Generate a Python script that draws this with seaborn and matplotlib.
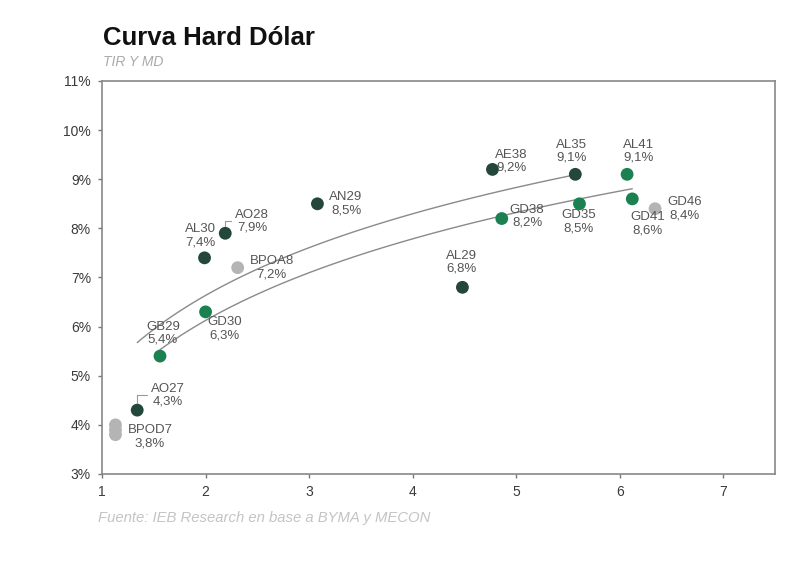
import numpy as np
import pandas as pd
import matplotlib
matplotlib.use("Agg")
import matplotlib.pyplot as plt
import seaborn as sns

# ---- data ----
bonds = ["BPOB7", "BPOC7", "BPOD7", "AO27", "GB29", "GD30", "AL30", "AO28", "BPOA8",
         "AN29", "AL29", "AE38", "GD38", "AL35", "GD35", "AL41", "GD41", "GD46"]
duration = [1.13, 1.13, 1.13, 1.34, 1.56, 2.00, 1.99, 2.19, 2.31,
            3.08, 4.48, 4.77, 4.86, 5.57, 5.61, 6.07, 6.12, 6.34]
tir = [4.0, 3.9, 3.8, 4.3, 5.4, 6.3, 7.4, 7.9, 7.2,
       8.5, 6.8, 9.2, 8.2, 9.1, 8.5, 9.1, 8.6, 8.4]
group = ["otros", "otros", "otros", "ley local", "ley NY", "ley NY", "ley local", "ley local", "otros",
         "ley local", "ley local", "ley local", "ley NY", "ley local", "ley NY", "ley NY", "ley NY", "otros"]
labeled = ["BPOD7", "AO27", "GB29", "GD30", "AL30", "AO28", "BPOA8", "AN29", "AL29",
           "AE38", "GD38", "AL35", "GD35", "AL41", "GD41", "GD46"]

title = "Curva Hard Dólar"
subtitle = "TIR Y MD"
source = "Fuente: IEB Research en base a BYMA y MECON"
x_ticks = [1, 2, 3, 4, 5, 6, 7]
y_ticks = [3, 4, 5, 6, 7, 8, 9, 10, 11]

palette = {"ley local": "#23473a", "ley NY": "#1b8150", "otros": "#b4b4b4"}

# label placement (pixel offsets, alignment, leader line)
label_pos = {
    "BPOD7": (12, -2, "left", False), "AO27": (14, 15, "left", True), "GB29": (-14, 23, "left", False),
    "GD30": (2, -17, "left", False), "AL30": (-4, 22, "center", False), "AO28": (10, 12, "left", True),
    "BPOA8": (12, 0, "left", False), "AN29": (12, 0, "left", False), "AL29": (-1, 25, "center", False),
    "AE38": (3, 8, "left", False), "GD38": (8, 2, "left", False), "AL35": (-4, 23, "center", False),
    "GD35": (-1, -18, "center", False), "AL41": (11, 23, "center", False), "GD41": (-2, -25, "left", False),
    "GD46": (12, 0, "left", False),
}

df = pd.DataFrame({"bono": bonds, "md": duration, "tir": tir, "grupo": group})

sns.set_theme(style="white")
plt.rcParams["font.family"] = ["Liberation Sans", "DejaVu Sans"]

fig = plt.figure(figsize=(8, 5.62), dpi=100)
ax = fig.add_axes([0.1275, 0.1566, 0.8415, 0.6993])

# trend curves (log fits) for the two families
for g in ["ley local", "ley NY"]:
    sub = df[df["grupo"] == g]
    sns.regplot(data=sub, x="md", y="tir", logx=True, ci=None, scatter=False, ax=ax,
                line_kws={"color": "#8a8a8a", "lw": 1.0, "zorder": 1})

sns.scatterplot(data=df, x="md", y="tir", hue="grupo", palette=palette, s=85,
                edgecolor="none", legend=False, ax=ax, zorder=3)

for b, x, y in zip(bonds, duration, tir):
    if b not in labeled:
        continue
    dx, dy, ha, leader = label_pos[b]
    arrow = None
    if leader:
        arrow = dict(arrowstyle="-", color="#999999", lw=0.8, relpos=(0, 0.5),
                     connectionstyle="angle,angleA=0,angleB=90,rad=0", shrinkA=1, shrinkB=5)
    ax.annotate(f"{b}\n{y:.1f}%".replace(".", ","), xy=(x, y), xytext=(dx, dy),
                textcoords="offset pixels", ha=ha, va="center", multialignment="center",
                fontsize=9.5, color="#555555", linespacing=1.1, zorder=4,
                arrowprops=arrow)

ax.set_xlim(1, 7.5)
ax.set_ylim(3, 11)
ax.set_xticks(x_ticks)
ax.set_xticklabels([str(t) for t in x_ticks])
ax.set_yticks(y_ticks)
ax.set_yticklabels([f"{t}%" for t in y_ticks])
ax.set_xlabel("")
ax.set_ylabel("")
ax.tick_params(axis="both", which="both", direction="out", length=3, width=1,
               color="#777777", labelcolor="#3a3a3a", labelsize=10, pad=5,
               bottom=True, left=True)
for sp in ax.spines.values():
    sp.set_visible(True)
    sp.set_color("#888888")
    sp.set_linewidth(1.2)

fig.text(103 / 800, 1 - 38 / 562, title, fontsize=18.5, fontweight="bold",
         color="#111111", ha="left", va="center")
fig.text(103 / 800, 1 - 62 / 562, subtitle, fontsize=10, style="italic",
         color="#aaaaaa", ha="left", va="center")
fig.text(98 / 800, 1 - 518 / 562, source, fontsize=10.7, style="italic",
         color="#c4c4c4", ha="left", va="center")

fig.savefig("out.png", dpi=100)
